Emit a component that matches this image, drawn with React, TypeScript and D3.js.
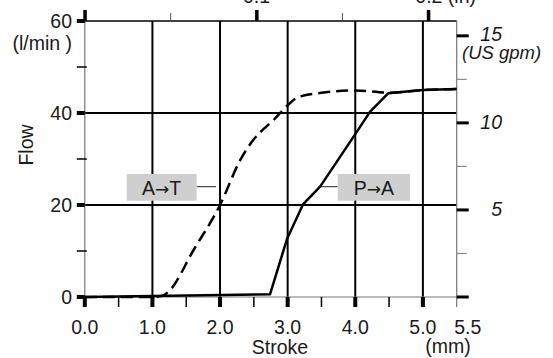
import React from "react";
import * as d3 from "d3";

const strokeAT = [0, 1.0, 1.15, 1.26, 1.6, 2.0, 2.3, 2.5, 2.6, 2.8, 3.0, 3.15, 3.5, 4.0, 4.5, 5.0, 5.5];
const flowAT = [0, 0, 0.3, 1.5, 10, 20, 29.8, 34.3, 35.9, 38.6, 41.7, 43.4, 44.4, 44.9, 44.4, 45, 45.2];
const strokePA = [0, 2.74, 2.99, 3.23, 3.48, 3.99, 4.22, 4.49, 5.0, 5.5];
const flowPA = [0, 0.6, 12.6, 20.2, 24, 35.2, 40.3, 44.3, 45, 45.2];

const xMajor = [0, 1, 2, 3, 4, 5];
const xMinor = [0.5, 1.5, 2.5, 3.5, 4.5];
const xLabels = ["0.0", "1.0", "2.0", "3.0", "4.0", "5.0", "5.5"];
const yMajor = [0, 20, 40, 60];
const yMinor = [10, 30, 50];
const gpmMajor = [0, 5, 10, 15];
const gpmMinor = [2.5, 7.5, 12.5];
const inMajor = [0, 0.1, 0.2];
const inMinor = [0.05, 0.15];

const LPM_PER_GPM = 3.785;
const MM_PER_IN = 25.4;

export default function App() {
  const W = 553, H = 358;
  const x = d3.scaleLinear().domain([0, 5.5]).range([84.8, 456.7]);
  const y = d3.scaleLinear().domain([0, 60]).range([297, 21]);
  const yG = d3.scaleLinear().domain([0, 60 / LPM_PER_GPM]).range([297, 21]);
  const xI = d3.scaleLinear().domain([0, 5.5 / MM_PER_IN]).range([84.8, 456.7]);

  const lineAT = d3.line<number>().x((d, i) => x(strokeAT[i])).y((d) => y(d)).curve(d3.curveMonotoneX);
  const linePA = d3.line<number>().x((d, i) => x(strokePA[i])).y((d) => y(d));

  const font = "'Liberation Sans', Arial, Helvetica, sans-serif";
  const fs = 19.5;
  const tc = "#1a1a1a";
  const x0 = x(0), x1 = x(5.5), y0 = y(0), y1 = y(60);
  const arrowFont = "'DejaVu Sans', sans-serif";

  return (
    <svg width={W} height={H} style={{ position: "absolute", left: 0, top: 0 }} fontFamily={font}>
      <rect width={W} height={H} fill="#fff" />
      {/* grid */}
      {[1, 2, 3, 4, 5].map((v) => (
        <line key={"gv" + v} x1={x(v)} x2={x(v)} y1={y0} y2={y1} stroke="#000" strokeWidth={2} />
      ))}
      {[20, 40].map((v) => (
        <line key={"gh" + v} x1={x0} x2={x1} y1={y(v)} y2={y(v)} stroke="#000" strokeWidth={2} />
      ))}
      <line x1={x0} x2={x1} y1={y1} y2={y1} stroke="#000" strokeWidth={1.6} />
      {/* axes lines */}
      <line x1={x0} x2={x0} y1={y1} y2={y0 + 10} stroke="#777" strokeWidth={1.2} />
      <line x1={x1} x2={x1} y1={y1} y2={y0 + 10} stroke="#777" strokeWidth={1.2} />
      <line x1={x0} x2={x1} y1={y0} y2={y0} stroke="#777" strokeWidth={1.2} />

      {/* left ticks */}
      {yMajor.map((v) => (
        <rect key={"lm" + v} x={x0 - 8} y={y(v) - 2} width={8} height={4} fill="#000" />
      ))}
      {yMinor.map((v) => (
        <line key={"ln" + v} x1={x0 - 8} x2={x0 + 2} y1={y(v)} y2={y(v)} stroke="#000" strokeWidth={1.5} />
      ))}
      {/* bottom ticks */}
      {xMajor.map((v) => (
        <rect key={"bm" + v} x={x(v) - 2} y={y0} width={4} height={10} fill="#000" />
      ))}
      {xMinor.map((v) => (
        <line key={"bn" + v} x1={x(v)} x2={x(v)} y1={y0} y2={y0 + 10} stroke="#000" strokeWidth={1.5} />
      ))}
      {/* right ticks */}
      {gpmMajor.map((v) => (
        <rect key={"rm" + v} x={x1} y={yG(v) - 1.5} width={12} height={3} fill="#000" />
      ))}
      {gpmMinor.map((v) => (
        <line key={"rn" + v} x1={x1} x2={x1 + 10} y1={yG(v)} y2={yG(v)} stroke="#888" strokeWidth={1.2} />
      ))}
      {/* top ticks */}
      {inMajor.map((v) => (
        <rect key={"tm" + v} x={xI(v) - 1.5} y={y1 - 11} width={3.5} height={11} fill="#000" />
      ))}
      {inMinor.map((v) => (
        <line key={"tn" + v} x1={xI(v)} x2={xI(v)} y1={y1 - 8} y2={y1} stroke="#555" strokeWidth={1} />
      ))}

      {/* curves */}
      <path d={lineAT(flowAT) || ""} fill="none" stroke="#000" strokeWidth={2.5} strokeDasharray="12,6" />
      <path d={linePA(flowPA) || ""} fill="none" stroke="#000" strokeWidth={2.5} strokeLinejoin="round" />

      {/* legends */}
      <line x1={196.7} x2={216} y1={186.7} y2={186.7} stroke="#222" strokeWidth={1} />
      <rect x={126.7} y={174} width={70} height={26.7} fill="#cfcfcf" />
      <text x={161.7} y={194.5} fontSize={fs} fill={tc} textAnchor="middle">A<tspan fontFamily={arrowFont} fontSize={17}>→</tspan>T</text>
      <line x1={318} x2={337.7} y1={186.7} y2={186.7} stroke="#222" strokeWidth={1} />
      <rect x={337.7} y={174} width={72.3} height={26.7} fill="#cfcfcf" />
      <text x={373.8} y={194.5} fontSize={fs} fill={tc} textAnchor="middle">P<tspan fontFamily={arrowFont} fontSize={17}>→</tspan>A</text>

      {/* left labels */}
      {yMajor.map((v) => (
        <text key={"ll" + v} x={72} y={y(v) + 7} fontSize={fs} fill={tc} textAnchor="end">{v}</text>
      ))}
      <text x={72} y={50} fontSize={fs} fill={tc} textAnchor="end">(l/min )</text>
      <text transform="translate(33,145) rotate(-90)" fontSize={fs} fill={tc} textAnchor="middle">Flow</text>

      {/* bottom labels */}
      {xMajor.map((v, i) => (
        <text key={"bl" + v} x={x(v)} y={334} fontSize={fs} fill={tc} textAnchor="middle">{xLabels[i]}</text>
      ))}
      <text x={x(5.5) + 11} y={334} fontSize={fs} fill={tc} textAnchor="middle">{xLabels[6]}</text>
      <text x={280} y={354} fontSize={fs} fill={tc} textAnchor="middle">Stroke</text>
      <text x={448} y={353} fontSize={fs} fill={tc} textAnchor="middle">(mm)</text>

      {/* right labels */}
      {gpmMajor.filter((v) => v > 0).map((v) => (
        <text key={"rl" + v} x={502} y={yG(v) + (v === 15 ? 5.5 : 6.5)} fontSize={fs} fill={tc} textAnchor="end" fontStyle="italic">{v}</text>
      ))}
      <text x={462} y={58.5} fontSize={18.5} fill={tc} fontStyle="italic">(US gpm)</text>

      {/* top labels (cropped) */}
      <text x={xI(0.1)} y={3} fontSize={fs} fill={tc} textAnchor="middle">0.1</text>
      <text x={xI(0.2) - 13} y={3} fontSize={fs} fill={tc}>0.2  (in)</text>
    </svg>
  );
}
